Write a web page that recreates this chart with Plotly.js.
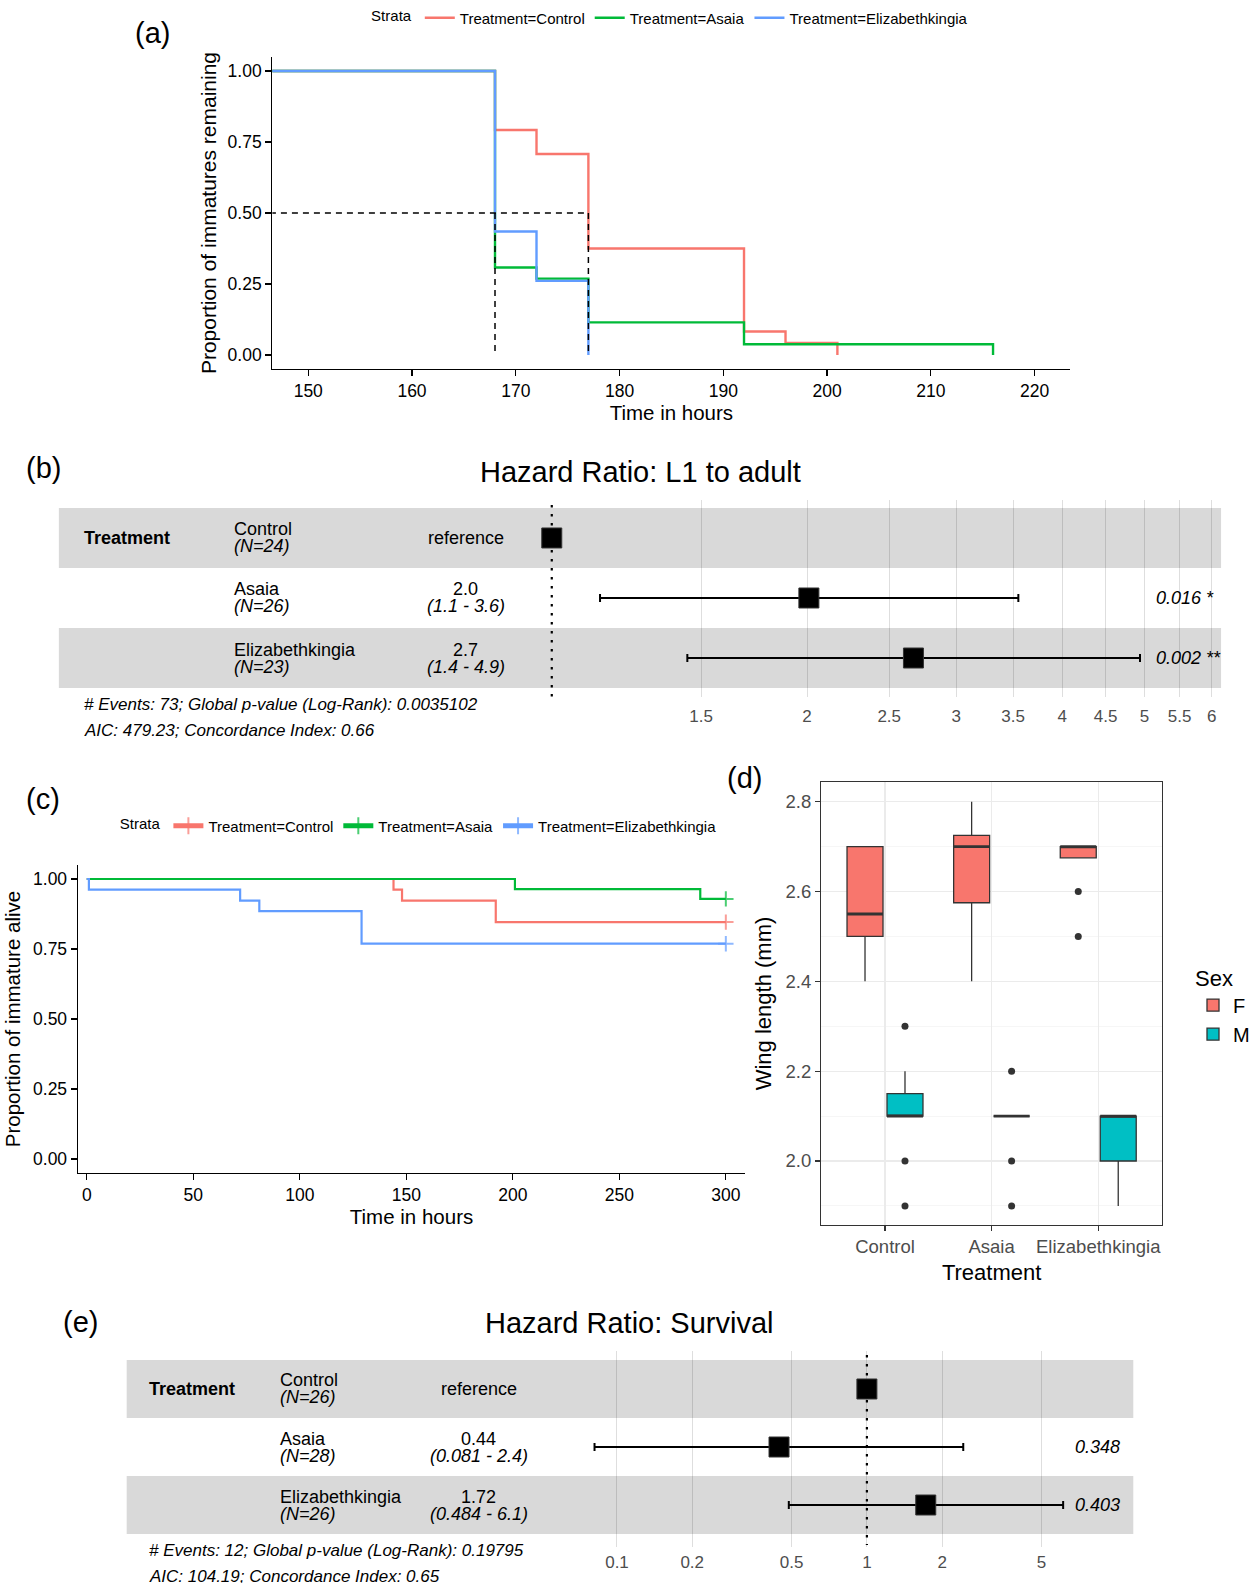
<!DOCTYPE html>
<html><head><meta charset="utf-8">
<script src="https://cdn.plot.ly/plotly-3.0.1.min.js"></script>
<style>html,body{margin:0;padding:0;background:#fff}#chart{width:1255px;height:1583px}</style>
</head><body><div id="chart"></div>
<script>
// ---------- DATA ----------
// Panel (a): Kaplan-Meier, L1 to adult
const strataNames = ['Treatment=Control','Treatment=Asaia','Treatment=Elizabethkingia'];
const strataColors = ['#F8766D','#00BA38','#619CFF'];
const devTimeControl = [0,168,172,177,192,196,201];
const devSurvControl = [1,0.792,0.708,0.375,0.083,0.042,0];
const devTimeAsaia = [0,168,172,177,192,216];
const devSurvAsaia = [1,0.308,0.269,0.115,0.038,0];
const devTimeEliz = [0,168,172,177];
const devSurvEliz = [1,0.435,0.261,0];
const devMedians = [177,168,168];
const devXTicks = [150,160,170,180,190,200,210,220];
const propTicks = [0,0.25,0.5,0.75,1];
const propTickText = ['0.00','0.25','0.50','0.75','1.00'];

// Panel (b): Hazard ratio L1 to adult
const hrGroups = ['Control','Asaia','Elizabethkingia'];
const devN = ['(N=24)','(N=26)','(N=23)'];
const devHR = [1, 2.01, 2.67];
const devLo = [null, 1.14, 1.445];
const devHi = [null, 3.55, 4.94];
const devHRText = ['reference','2.0','2.7'];
const devCIText = ['','(1.1 - 3.6)','(1.4 - 4.9)'];
const devPText = ['','0.016 *','0.002 **'];
const devHRTicks = [1.5,2,2.5,3,3.5,4,4.5,5,5.5,6];
const devFooter = ['# Events: 73; Global p-value (Log-Rank): 0.0035102','AIC: 479.23; Concordance Index: 0.66'];

// Panel (c): Kaplan-Meier, survival
const survTimeControl = [0,144,148,192,300];
const survProbControl = [1,0.962,0.923,0.846,0.846];
const survTimeAsaia = [0,201,288,300];
const survProbAsaia = [1,0.964,0.929,0.929];
const survTimeEliz = [0,1,72,81,129,300];
const survProbEliz = [1,0.962,0.923,0.885,0.769,0.769];
const survXTicks = [0,50,100,150,200,250,300];

// Panel (d): wing length boxplots
const wingTreat = ['Control','Asaia','Elizabethkingia'];
const sexLevels = ['F','M'];
const sexColors = ['#F8766D','#00BFC4'];
const wingFq1 = [2.5,2.575,2.675];
const wingFmed = [2.55,2.7,2.7];
const wingFq3 = [2.7,2.725,2.7];
const wingFlo = [2.4,2.4,2.675];
const wingFhi = [2.7,2.8,2.7];
const wingMq1 = [2.1,2.1,2.0];
const wingMmed = [2.1,2.1,2.1];
const wingMq3 = [2.15,2.1,2.1];
const wingMlo = [2.1,2.1,1.9];
const wingMhi = [2.2,2.1,2.1];
const outTreat = ['Control','Control','Control','Asaia','Asaia','Asaia','Elizabethkingia','Elizabethkingia'];
const outSex = ['M','M','M','M','M','M','F','F'];
const outVal = [2.3,2.0,1.9,2.2,2.0,1.9,2.6,2.5];
const wingTicks = [2.0,2.2,2.4,2.6,2.8];
const wingTickText = ['2.0','2.2','2.4','2.6','2.8'];
const wingMinor = [1.9,2.1,2.3,2.5,2.7];

// Panel (e): Hazard ratio survival
const survN = ['(N=26)','(N=28)','(N=26)'];
const survHR = [1, 0.445, 1.72];
const survLo = [null, 0.0813, 0.487];
const survHi = [null, 2.43, 6.1];
const survHRText = ['reference','0.44','1.72'];
const survCIText = ['','(0.081 - 2.4)','(0.484 - 6.1)'];
const survPText = ['','0.348','0.403'];
const survHRTicks = [0.1,0.2,0.5,1,2,5];
const survFooter = ['# Events: 12; Global p-value (Log-Rank): 0.19795','AIC: 104.19; Concordance Index: 0.65'];

// ---------- LAYOUT HELPERS ----------
const W = 1255, H = 1583;
const px = v => v / W;
const py = v => 1 - v / H;
const FONT = 'Liberation Sans, Arial, Helvetica, sans-serif';

const traces = [];
const shapes = [];
const annotations = [];

// ---------- (a) ----------
const devT = [devTimeControl, devTimeAsaia, devTimeEliz];
const devS = [devSurvControl, devSurvAsaia, devSurvEliz];
devT.forEach((t, i) => {
  traces.push({type:'scatter', mode:'lines', x:t, y:devS[i], name:strataNames[i],
    line:{color:strataColors[i], width:2.4, shape:'hv'}, xaxis:'x', yaxis:'y', legend:'legend'});
});
(function(){
  const mx = Math.max(...devMedians);
  const uniq = [...new Set(devMedians)];
  const xs = [0, mx], ys = [0.5, 0.5];
  uniq.forEach(m => { xs.push(null, m, m); ys.push(null, 0.5, 0); });
  traces.push({type:'scatter', mode:'lines', x:xs, y:ys, showlegend:false,
    line:{color:'#000', width:1.5, dash:'6px,5px'}, xaxis:'x', yaxis:'y', hoverinfo:'skip'});
})();

// ---------- (c) ----------
const survT = [survTimeControl, survTimeAsaia, survTimeEliz];
const survS = [survProbControl, survProbAsaia, survProbEliz];
survT.forEach((t, i) => {
  const sizes = t.map((v, j) => j === t.length - 1 ? 11 : 0);
  traces.push({type:'scatter', mode:'lines+markers', x:t, y:survS[i], name:strataNames[i],
    line:{color:strataColors[i], width:2.2, shape:'hv'},
    marker:{symbol:'cross-thin', size:sizes, color:strataColors[i], line:{color:strataColors[i], width:2}},
    xaxis:'x3', yaxis:'y3', legend:'legend2', cliponaxis:false});
});

// ---------- (d) ----------
const dodge = 0.1875, boxW = 0.3375;
const boxStats = [
  [wingFq1, wingFmed, wingFq3, wingFlo, wingFhi],
  [wingMq1, wingMmed, wingMq3, wingMlo, wingMhi]
];
sexLevels.forEach((s, k) => {
  const off = k === 0 ? -dodge : dodge;
  const st = boxStats[k];
  traces.push({type:'box', name:s, x:wingTreat.map((t, i) => i + off),
    q1:st[0], median:st[1], q3:st[2], lowerfence:st[3], upperfence:st[4],
    width:boxW, fillcolor:sexColors[k], line:{color:'#333333', width:1.3},
    whiskerwidth:0, boxpoints:false, xaxis:'x4', yaxis:'y4', legend:'legend3'});
});
// thicker median bars, as ggplot draws them
sexLevels.forEach((s, k) => {
  const off = k === 0 ? -dodge : dodge;
  const xs = [], ys = [];
  boxStats[k][1].forEach((m, i) => { xs.push(i + off - boxW/2, i + off + boxW/2, null); ys.push(m, m, null); });
  traces.push({type:'scatter', mode:'lines', x:xs, y:ys, line:{color:'#333333', width:2.8},
    showlegend:false, xaxis:'x4', yaxis:'y4', hoverinfo:'skip'});
});
traces.push({type:'scatter', mode:'markers',
  x: outTreat.map((t, i) => wingTreat.indexOf(t) + (outSex[i] === 'F' ? -dodge : dodge)),
  y: outVal, marker:{size:7, color:'#333333'}, showlegend:false, xaxis:'x4', yaxis:'y4'});

// ---------- forest helper ----------
function forest(ax, hr, lo, hi, nLab, hrTxt, ciTxt, pTxt, footer, cfg){
  const rows = hrGroups.map((g, i) => hrGroups.length - i);
  rows.forEach((r, i) => {
    if (i % 2 === 0) shapes.push({type:'rect', xref:'x'+ax+' domain', x0:0, x1:1, yref:'y'+ax,
      y0:r - 0.5, y1:r + 0.5, fillcolor:'#D9D9D9', line:{width:0}, layer:'below'});
  });
  const refIdx = hr.indexOf(1);
  traces.push({type:'scatter', mode:'lines', x:[hr[refIdx], hr[refIdx]],
    y:[rows[0] + cfg.dotTop, rows[rows.length-1] - cfg.dotBot],
    line:{color:'#000', width:2.2, dash:'2.5px,6.5px'}, xaxis:'x'+ax, yaxis:'y'+ax,
    showlegend:false, hoverinfo:'skip', cliponaxis:false});
  traces.push({type:'scatter', mode:'markers', x:hr, y:rows,
    marker:{symbol:'square', size:20, color:'#000', line:{color:'#333', width:1}},
    error_x:{type:'data', symmetric:false,
      array: hi.map((h, i) => h == null ? null : h - hr[i]),
      arrayminus: lo.map((l, i) => l == null ? null : hr[i] - l),
      color:'#000', thickness:2, width:4},
    xaxis:'x'+ax, yaxis:'y'+ax, showlegend:false, cliponaxis:false});
  const yref = 'y'+ax;
  annotations.push({text:'<b>Treatment</b>', xref:'paper', x:px(cfg.colTreat), xanchor:'left',
    yref:yref, y:rows[0], yanchor:'middle', showarrow:false, font:{size:18, color:'#000'}});
  rows.forEach((r, i) => {
    annotations.push({text:hrGroups[i], xref:'paper', x:px(cfg.colName), xanchor:'left',
      yref:yref, y:r, yshift:8.5, yanchor:'middle', showarrow:false, font:{size:18, color:'#000'}});
    annotations.push({text:'<i>'+nLab[i]+'</i>', xref:'paper', x:px(cfg.colName), xanchor:'left',
      yref:yref, y:r, yshift:-8.5, yanchor:'middle', showarrow:false, font:{size:18, color:'#000'}});
    if (ciTxt[i]) {
      annotations.push({text:hrTxt[i], xref:'paper', x:px(cfg.colHR), xanchor:'center',
        yref:yref, y:r, yshift:8.5, yanchor:'middle', showarrow:false, font:{size:18, color:'#000'}});
      annotations.push({text:'<i>'+ciTxt[i]+'</i>', xref:'paper', x:px(cfg.colHR), xanchor:'center',
        yref:yref, y:r, yshift:-8.5, yanchor:'middle', showarrow:false, font:{size:18, color:'#000'}});
    } else {
      annotations.push({text:hrTxt[i], xref:'paper', x:px(cfg.colHR), xanchor:'center',
        yref:yref, y:r, yanchor:'middle', showarrow:false, font:{size:18, color:'#000'}});
    }
    if (pTxt[i]) annotations.push({text:'<i>'+pTxt[i]+'</i>', xref:'paper', x:px(cfg.colP), xanchor:'left',
      yref:yref, y:r, yanchor:'middle', showarrow:false, font:{size:18, color:'#000'}});
  });
  footer.forEach((f, j) => annotations.push({text:'<i>'+f+'</i>', xref:'paper', x:px(cfg.colTreat), xanchor:'left',
    yref:'paper', y:py(cfg.footY[j]), yanchor:'middle', showarrow:false, font:{size:17, color:'#000'}}));
  annotations.push({text:cfg.title, xref:'paper', x:px(cfg.titleX), xanchor:'center',
    yref:'paper', y:py(cfg.titleY), yanchor:'middle', showarrow:false, font:{size:29, color:'#000'}});
}

forest('2', devHR, devLo, devHi, devN, devHRText, devCIText, devPText, devFooter,
  {colTreat:82, colName:233, colHR:467, colP:1157, footY:[704,730], title:'Hazard Ratio: L1 to adult',
   titleX:642, titleY:472, dotTop:0.55, dotBot:0.65});
forest('5', survHR, survLo, survHi, survN, survHRText, survCIText, survPText, survFooter,
  {colTreat:147, colName:279, colHR:480, colP:1076, footY:[1550,1576], title:'Hazard Ratio: Survival',
   titleX:631, titleY:1323, dotTop:0.586, dotBot:0.69});

// panel labels
[['(a)',153,33],['(b)',44,468],['(c)',43,799],['(d)',746,778],['(e)',81,1322]].forEach(l => {
  annotations.push({text:l[0], xref:'paper', yref:'paper', x:px(l[1]), y:py(l[2]), xanchor:'center', yanchor:'middle',
    showarrow:false, font:{size:29, color:'#000'}});
});

// ---------- axes ----------
const classicX = {showline:true, linecolor:'#000', linewidth:1.2, ticks:'outside', ticklen:6, tickwidth:1.2,
  tickcolor:'#000', showgrid:false, zeroline:false, tickfont:{size:17.5, color:'#000'}};
const bwAx = {showline:true, mirror:true, linecolor:'#333333', linewidth:1.1, ticks:'outside', ticklen:5,
  tickwidth:1.1, tickcolor:'#333333', showgrid:true, gridcolor:'#EBEBEB', gridwidth:1.3, zeroline:false,
  tickfont:{size:18.5, color:'#4D4D4D'}};
const forestX = {type:'log', showline:false, zeroline:false, ticks:'', showgrid:true,
  gridcolor:'rgba(0,0,0,0.13)', gridwidth:1, tickfont:{size:17, color:'#4D4D4D'}};
const hiddenY = {showgrid:false, zeroline:false, showline:false, showticklabels:false, ticks:''};

const layout = {
  width:W, height:H, margin:{l:0, r:0, t:0, b:0}, paper_bgcolor:'#fff', plot_bgcolor:'rgba(0,0,0,0)',
  font:{family:FONT, color:'#000'}, showlegend:true,
  xaxis: Object.assign({}, classicX, {domain:[px(273), px(1073)], range:[146.54, 223.46], anchor:'y',
    tickvals:devXTicks, title:{text:'Time in hours', font:{size:20.5}, standoff:3}}),
  yaxis: Object.assign({}, classicX, {domain:[py(369.2), py(56.8)], range:[-0.05, 1.05], anchor:'x',
    tickvals:propTicks, ticktext:propTickText, title:{text:'Proportion of immatures remaining', font:{size:21}, standoff:5}}),
  xaxis2: Object.assign({}, forestX, {domain:[px(59), px(1224)], range:[-0.5813, 0.7893], anchor:'y2',
    tickvals:devHRTicks, ticktext:devHRTicks.map(String), ticklabelstandoff:7}),
  yaxis2: Object.assign({}, hiddenY, {domain:[py(697), py(500)], range:[0.35, 3.633], anchor:'x2'}),
  xaxis3: Object.assign({}, classicX, {domain:[px(78), px(747)], range:[-4.2, 309.1], anchor:'y3',
    tickvals:survXTicks, title:{text:'Time in hours', font:{size:20.5}, standoff:4}}),
  yaxis3: Object.assign({}, classicX, {domain:[py(1173), py(865)], range:[-0.05, 1.05], anchor:'x3',
    tickvals:propTicks, ticktext:propTickText, title:{text:'Proportion of immature alive', font:{size:20.5}, standoff:6}}),
  xaxis4: Object.assign({}, bwAx, {domain:[px(823), px(1165)], range:[-0.6, 2.6], anchor:'y4',
    tickvals:wingTreat.map((t, i) => i), ticktext:wingTreat, title:{text:'Treatment', font:{size:22}, standoff:8}}),
  yaxis4: Object.assign({}, bwAx, {domain:[py(1225), py(782)], range:[1.8575, 2.8439], anchor:'x4',
    tickvals:wingTicks, ticktext:wingTickText,
    minor:{tickvals:wingMinor, showgrid:true, gridcolor:'#F2F2F2', gridwidth:0.7, ticks:''},
    title:{text:'Wing length (mm)', font:{size:22}, standoff:7}}),
  xaxis5: Object.assign({}, forestX, {domain:[px(127), px(1136)], range:[-2.962, 1.066], anchor:'y5',
    tickvals:survHRTicks, ticktext:survHRTicks.map(String), ticklabelstandoff:3}),
  yaxis5: Object.assign({}, hiddenY, {domain:[py(1547), py(1351)], range:[0.276, 3.655], anchor:'x5'}),
  legend: {x:px(370), y:py(18), xanchor:'left', yanchor:'middle', orientation:'h',
    title:{text:'Strata', side:'left', font:{size:15}}, font:{size:15, color:'#000'},
    itemwidth:30, bgcolor:'rgba(0,0,0,0)', tracegroupgap:0},
  legend2: {x:px(118), y:py(826), xanchor:'left', yanchor:'middle', orientation:'h',
    title:{text:'Strata', side:'left', font:{size:15}}, font:{size:15, color:'#000'},
    itemwidth:30, itemsizing:'constant', bgcolor:'rgba(0,0,0,0)', tracegroupgap:0},
  legend3: {x:px(1196), y:py(957), xanchor:'left', yanchor:'top', orientation:'v',
    title:{text:'Sex', font:{size:22}}, font:{size:20, color:'#000'},
    itemwidth:30, bgcolor:'rgba(0,0,0,0)', tracegroupgap:0},
  shapes: shapes,
  annotations: annotations
};

Plotly.newPlot('chart', traces, layout, {displayModeBar:false, staticPlot:true});
</script>
</body></html>
